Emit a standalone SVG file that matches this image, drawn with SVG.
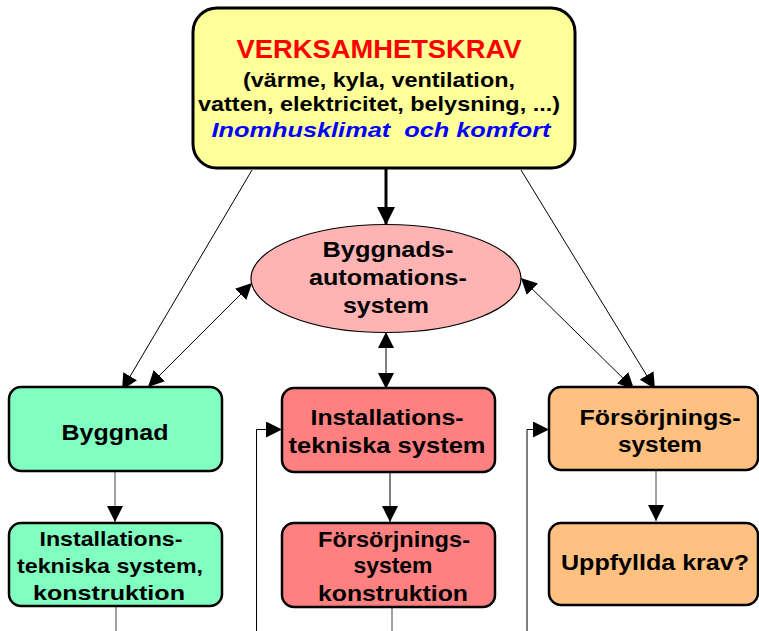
<svg xmlns="http://www.w3.org/2000/svg" width="759" height="631" viewBox="0 0 759 631">
<style>
text{font-family:"Liberation Sans",Arial,sans-serif;font-weight:bold;text-anchor:middle;fill:#000}
.t21{font-size:21px}.t22{font-size:22px}
.box{stroke:#000;stroke-width:2.5}
.thin{stroke:#000;stroke-width:1;fill:none}
.gray{stroke:#444;stroke-width:1;fill:none}
</style>
<defs>
<marker id="ah" viewBox="0 0 16 16" refX="16" refY="8" markerWidth="16" markerHeight="16" markerUnits="userSpaceOnUse" orient="auto-start-reverse"><path d="M0,0 L16,8 L0,16 z" fill="#000"/></marker>
<marker id="ahb" viewBox="0 0 18 18" refX="18" refY="9" markerWidth="18" markerHeight="18" markerUnits="userSpaceOnUse" orient="auto-start-reverse"><path d="M0,0 L18,9 L0,18 z" fill="#000"/></marker>
</defs>
<rect width="759" height="631" fill="#fff"/>
<g id="connectors">
<line x1="386" y1="168" x2="386" y2="225" stroke="#000" stroke-width="3" marker-end="url(#ahb)"/>
<line class="thin" x1="252" y1="170" x2="122" y2="390" marker-end="url(#ah)"/>
<line class="thin" x1="252" y1="283" x2="148" y2="387" marker-start="url(#ah)" marker-end="url(#ah)"/>
<line class="thin" x1="386" y1="332" x2="386" y2="389" marker-start="url(#ah)" marker-end="url(#ah)"/>
<line class="thin" x1="521" y1="278" x2="634" y2="389" marker-start="url(#ah)" marker-end="url(#ah)"/>
<line class="thin" x1="521" y1="170" x2="655" y2="389" marker-end="url(#ah)"/>
<line class="gray" x1="115" y1="472" x2="115" y2="522" marker-end="url(#ah)"/>
<line class="thin" x1="390" y1="473" x2="390" y2="522" marker-end="url(#ah)"/>
<line class="gray" x1="656" y1="471" x2="656" y2="521" marker-end="url(#ah)"/>
<line class="gray" x1="116" y1="607" x2="116" y2="631"/>
<line class="gray" x1="392" y1="608" x2="392" y2="631"/>
<path class="thin" d="M256.5,631 V429.5 H282" marker-end="url(#ah)"/>
<path class="thin" d="M527,631 V429.5 H549" marker-end="url(#ah)"/>
</g>
<g id="verksamhetskrav">
<rect x="193" y="8" width="382" height="160" rx="24" fill="#FFFF99" stroke="#000" stroke-width="3"/>
<text x="379" y="58" style="font-size:25px;fill:#FF0000" textLength="285" lengthAdjust="spacingAndGlyphs">VERKSAMHETSKRAV</text>
<text class="t21" x="379" y="87" textLength="272" lengthAdjust="spacingAndGlyphs">(värme, kyla, ventilation,</text>
<text class="t21" x="379" y="111" textLength="362" lengthAdjust="spacingAndGlyphs">vatten, elektricitet, belysning, ...)</text>
<text class="t21" x="381" y="137" style="font-style:italic;fill:#0000FF" textLength="339" lengthAdjust="spacingAndGlyphs" xml:space="preserve">Inomhusklimat  och komfort</text>
</g>
<g id="bas">
<ellipse cx="386" cy="278.5" rx="135" ry="54" fill="#FFB3B3" stroke="#000" stroke-width="1.2"/>
<text class="t22" x="388" y="257" textLength="131" lengthAdjust="spacingAndGlyphs">Byggnads-</text>
<text class="t22" x="388" y="285" textLength="158" lengthAdjust="spacingAndGlyphs">automations-</text>
<text class="t22" x="386" y="313" textLength="86" lengthAdjust="spacingAndGlyphs">system</text>
</g>
<g id="byggnad">
<rect class="box" x="9" y="387" width="213" height="84" rx="12" fill="#80FFC0"/>
<text class="t22" x="115" y="440" textLength="107" lengthAdjust="spacingAndGlyphs">Byggnad</text>
</g>
<g id="installationsteknik-konstruktion">
<rect class="box" x="9" y="523" width="213" height="83" rx="12" fill="#80FFC0"/>
<text class="t21" x="111" y="546" textLength="143" lengthAdjust="spacingAndGlyphs">Installations-</text>
<text class="t21" x="110" y="573" textLength="186" lengthAdjust="spacingAndGlyphs">tekniska system,</text>
<text class="t21" x="109" y="600" textLength="152" lengthAdjust="spacingAndGlyphs">konstruktion</text>
</g>
<g id="installationstekniska-system">
<rect class="box" x="282" y="388" width="213" height="84" rx="12" fill="#FF8080"/>
<text class="t22" x="387" y="425" textLength="153" lengthAdjust="spacingAndGlyphs">Installations-</text>
<text class="t22" x="387" y="453" textLength="197" lengthAdjust="spacingAndGlyphs">tekniska system</text>
</g>
<g id="forsorjningssystem-konstruktion">
<rect class="box" x="282" y="523" width="213" height="84" rx="12" fill="#FF8080"/>
<text class="t22" x="394" y="547" textLength="152" lengthAdjust="spacingAndGlyphs">Försörjnings-</text>
<text class="t22" x="393" y="573" textLength="79" lengthAdjust="spacingAndGlyphs">system</text>
<text class="t22" x="393" y="601" textLength="150" lengthAdjust="spacingAndGlyphs">konstruktion</text>
</g>
<g id="forsorjningssystem">
<rect class="box" x="549" y="387" width="209" height="83" rx="12" fill="#FFC080"/>
<text class="t22" x="660" y="425" textLength="161" lengthAdjust="spacingAndGlyphs">Försörjnings-</text>
<text class="t22" x="660" y="452" textLength="84" lengthAdjust="spacingAndGlyphs">system</text>
</g>
<g id="uppfyllda-krav">
<rect class="box" x="549" y="523" width="209" height="82" rx="12" fill="#FFC080"/>
<text class="t22" x="655" y="570" textLength="188" lengthAdjust="spacingAndGlyphs">Uppfyllda krav?</text>
</g>
</svg>
